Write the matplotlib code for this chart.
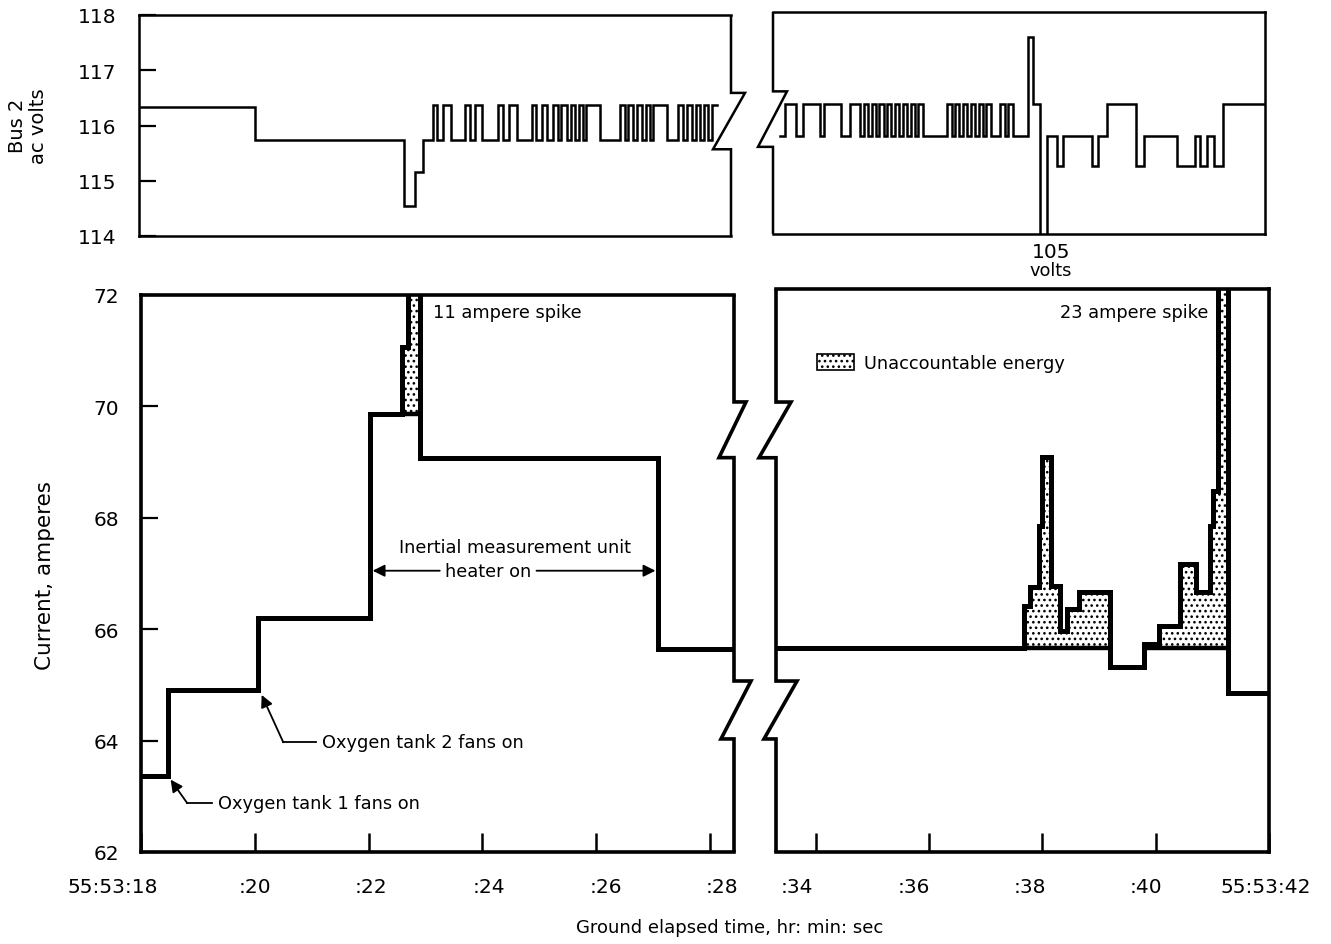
import matplotlib
matplotlib.use("Agg")
import matplotlib.pyplot as plt
import matplotlib.transforms as mtrans
from matplotlib.patches import Patch
import numpy as np

plt.rcParams['font.family'] = ['DejaVu Sans']
plt.rcParams['hatch.linewidth'] = 1.1

# ---------------- data: time in seconds after 55:53:00 ----------------
# Bus 2 ac volts, left of the data gap (value holds from each time to the next)
volt_a_time = [18.00, 20.00, 22.62, 22.82, 22.95,
               23.13, 23.21, 23.30, 23.44, 23.69, 23.78, 23.87, 23.99,
               24.28, 24.37, 24.47, 24.60, 24.87, 24.95, 25.04, 25.13,
               25.25, 25.33, 25.39, 25.48, 25.55, 25.63, 25.70, 25.77,
               25.83, 26.07, 26.42, 26.51, 26.56, 26.65, 26.72, 26.80,
               26.87, 26.94, 27.00, 27.24, 27.44, 27.53, 27.59, 27.68,
               27.75, 27.82, 27.89, 27.97, 28.04]
volt_a_value = [116.33, 115.74, 114.55, 115.15, 115.74,
                116.37, 115.74, 116.37, 115.74, 116.37, 115.74, 116.37, 115.74,
                116.37, 115.74, 116.37, 115.74, 116.37, 115.74, 116.37, 115.74,
                116.37, 115.74, 116.37, 115.74, 116.37, 115.74, 116.37, 115.74,
                116.37, 115.74, 116.37, 115.74, 116.37, 115.74, 116.37, 115.74,
                116.37, 115.74, 116.37, 115.74, 116.37, 115.74, 116.37, 115.74,
                116.37, 115.74, 116.37, 115.74, 116.37]
volt_a_end = 28.13

# Bus 2 ac volts, right of the data gap (drop to 105 V just before :38)
volt_b_time = [33.38, 33.46, 33.66, 33.77, 34.07, 34.14, 34.45, 34.61,
               34.78, 34.85, 34.92, 34.98, 35.06, 35.12, 35.20, 35.26,
               35.33, 35.39, 35.47, 35.53, 35.61, 35.67, 35.74, 35.80,
               35.89, 36.30, 36.39, 36.45, 36.52, 36.58, 36.66, 36.72,
               36.80, 36.86, 36.93, 36.99, 37.07, 37.24, 37.33, 37.38,
               37.46, 37.73, 37.82, 37.94, 38.06, 38.23, 38.35, 38.85,
               38.95, 39.11, 39.63, 39.76, 40.34, 40.66, 40.75, 40.87,
               40.99, 41.16]
volt_b_value = [115.76, 116.35, 115.76, 116.35, 115.76, 116.35, 115.76, 116.35,
                115.76, 116.35, 115.76, 116.35, 115.76, 116.35, 115.76, 116.35,
                115.76, 116.35, 115.76, 116.35, 115.76, 116.35, 115.76, 116.35,
                115.76, 116.35, 115.76, 116.35, 115.76, 116.35, 115.76, 116.35,
                115.76, 116.35, 115.76, 116.35, 115.76, 116.35, 115.76, 116.35,
                115.76, 117.55, 116.35, 105.00, 115.76, 115.22, 115.76, 115.22,
                115.76, 116.35, 115.22, 115.76, 115.22, 115.76, 115.22, 115.76,
                115.22, 116.35]
volt_b_end = 41.89

# Current, amperes (thick trace), left of the data gap
amp_a_time = [18.00, 18.47, 20.06, 22.02, 22.59, 22.69, 22.90, 27.09]
amp_a_value = [63.36, 64.91, 66.20, 69.86, 71.07, 73.50, 69.08, 65.64]
amp_a_end = 28.42

# Current, amperes, right of the data gap
amp_b_time = [33.30, 37.68, 37.79, 37.94, 37.99, 38.16, 38.32, 38.44,
              38.64, 39.20, 39.79, 40.05, 40.43, 40.72, 40.96, 41.02,
              41.10, 41.28]
amp_b_value = [65.67, 66.42, 66.76, 67.86, 69.09, 66.78, 65.97, 66.36,
               66.66, 65.32, 65.73, 66.06, 67.17, 66.66, 67.86, 68.49,
               74.00, 64.85]
amp_b_end = 42.00

# accountable current level under the stippled (unaccountable energy) areas
base_a_level, base_a_span = 69.86, (22.59, 22.90)
base_b_level, base_b_span = 65.67, (37.68, 41.28)

xticks_a = [18, 20, 22, 24, 26, 28]
xlabels_a = ['55:53:18', ':20', ':22', ':24', ':26', ':28']
xticks_b = [34, 36, 38, 40, 42]
xlabels_b = [':34', ':36', ':38', ':40', '55:53:42']
volt_ticks = [114, 115, 116, 117, 118]
amp_ticks = [62, 64, 66, 68, 70, 72]

# ---------------- figure ----------------
W, H = 1331, 945
fig = plt.figure(figsize=(W / 100, H / 100), dpi=100)
fig.patch.set_facecolor('white')


def px_axes(x0, y0, x1, y1):
    return fig.add_axes([x0 / W, 1 - y1 / H, (x1 - x0) / W, (y1 - y0) / H])


def step_xy(ts, vs, t_end):
    x = np.repeat(np.append(np.asarray(ts, float), t_end), 2)[1:-1]
    y = np.repeat(np.asarray(vs, float), 2)
    return x, y


def break_spine(ax, xs, ytop, ybot, breaks, lw):
    wpx = ax.get_position().width * W
    pts = [(xs, ytop)]
    for yh, yl, r, l in breaks:
        pts += [(xs, yh), (xs + r / wpx, yh), (xs - l / wpx, yl), (xs, yl)]
    pts.append((xs, ybot))
    px, py = zip(*pts)
    tr = mtrans.blended_transform_factory(ax.transAxes, ax.transData)
    ax.plot(px, py, color='black', lw=lw, transform=tr, clip_on=False,
            solid_joinstyle='miter', solid_capstyle='butt', zorder=5)


def shift_labels(labels, shifts_px):
    for lab, dx in zip(labels, shifts_px):
        lab.set_transform(lab.get_transform() +
                          mtrans.ScaledTranslation(dx / 100, 0, fig.dpi_scale_trans))


TICK = 14.5
ANN = 12.8

ax_tl = px_axes(139, 16, 731, 237)
ax_tr = px_axes(773, 13, 1265, 235)
ax_bl = px_axes(141, 296, 734, 853)
ax_br = px_axes(776, 290, 1269, 853)

ax_tl.set_xlim(17.965, 28.37)
ax_tr.set_xlim(33.25, 41.89)
ax_bl.set_xlim(18.0, 28.42)
ax_br.set_xlim(33.30, 42.0)
for a in (ax_tl, ax_tr):
    a.set_ylim(114, 118)
ax_bl.set_ylim(62, 72)
ax_br.set_ylim(62, 72.11)

# spines
for a, lw in ((ax_tl, 1.8), (ax_tr, 1.8), (ax_bl, 2.6), (ax_br, 2.6)):
    for s in a.spines.values():
        s.set_linewidth(lw)
ax_tl.spines['right'].set_visible(False)
ax_tr.spines['left'].set_visible(False)
ax_bl.spines['right'].set_visible(False)
ax_br.spines['left'].set_visible(False)

break_spine(ax_tl, 1.0, 118, 114, [(116.59, 115.57, 14, 18)], 1.8)
break_spine(ax_tr, 0.0, 118, 114, [(116.57, 115.57, 14, 15)], 1.8)
break_spine(ax_bl, 1.0, 72, 62, [(70.08, 69.08, 12, 15), (65.07, 64.03, 17, 13)], 2.6)
break_spine(ax_br, 0.0, 72.11, 62, [(70.08, 69.08, 15, 17), (65.07, 64.03, 21, 12)], 2.6)

# ticks
ax_tl.set_xticks([])
ax_tr.set_xticks([])
ax_tr.set_yticks([])
ax_br.set_yticks([])
ax_tl.set_yticks(volt_ticks)
ax_tl.set_yticklabels([str(v) for v in volt_ticks])
ax_bl.set_yticks(amp_ticks)
ax_bl.set_yticklabels([str(v) for v in amp_ticks])
ax_bl.set_xticks(xticks_a)
labs_a = ax_bl.set_xticklabels(xlabels_a)
ax_br.set_xticks(xticks_b)
labs_b = ax_br.set_xticklabels(xlabels_b)
for a in (ax_tl, ax_tr, ax_bl, ax_br):
    a.tick_params(axis='y', direction='in', length=12, width=1.6, labelsize=TICK, pad=16)
    a.tick_params(axis='x', direction='in', length=14, width=1.8, labelsize=TICK, pad=18)
shift_labels(labs_a, [-28, 0, 2, 6, 10, 12])
shift_labels(labs_b, [-19, -15, -12, -10, -3])

# voltage traces
x, y = step_xy(volt_a_time, volt_a_value, volt_a_end)
ax_tl.plot(x, y, color='black', lw=1.8, solid_joinstyle='miter', zorder=3)
x, y = step_xy(volt_b_time, volt_b_value, volt_b_end)
ax_tr.plot(x, y, color='black', lw=1.8, solid_joinstyle='miter', zorder=3)


def current_panel(ax, ts, vs, t_end, level, span):
    x, y = step_xy(ts, vs, t_end)
    m = (x >= span[0]) & (x <= span[1])
    ax.fill_between(x[m], level, np.maximum(y[m], level), facecolor='white',
                    edgecolor='black', hatch='...', linewidth=0, zorder=1)
    # accountable level drawn under the stippled parts
    tt = list(ts) + [t_end]
    for i, v in enumerate(vs):
        if span[0] <= ts[i] < span[1] and v > level:
            ax.plot([ts[i], tt[i + 1]], [level, level], color='black', lw=3.2,
                    solid_capstyle='butt', zorder=2)
    ax.plot(x, y, color='black', lw=3.6, solid_joinstyle='miter', zorder=3)


current_panel(ax_bl, amp_a_time, amp_a_value, amp_a_end, base_a_level, base_a_span)
current_panel(ax_br, amp_b_time, amp_b_value, amp_b_end, base_b_level, base_b_span)

# annotations
ax_bl.text(23.13, 71.70, '11 ampere spike', ha='left', va='center', fontsize=ANN)
ax_br.text(40.93, 71.70, '23 ampere spike', ha='right', va='center', fontsize=ANN)

arrow = dict(arrowstyle='-|>', lw=1.3, color='black', mutation_scale=18,
             shrinkA=0, shrinkB=0)
ax_bl.text(24.57, 67.48, 'Inertial measurement unit', ha='center', va='center', fontsize=ANN)
ax_bl.text(24.10, 67.05, 'heater on', ha='center', va='center', fontsize=ANN)
ax_bl.annotate('', xy=(22.07, 67.05), xytext=(23.25, 67.05), arrowprops=arrow)
ax_bl.annotate('', xy=(27.04, 67.05), xytext=(24.95, 67.05), arrowprops=arrow)

ax_bl.text(21.18, 63.97, 'Oxygen tank 2 fans on', ha='left', va='center', fontsize=ANN)
ax_bl.plot([20.50, 21.08], [63.97, 63.97], color='black', lw=1.3)
ax_bl.annotate('', xy=(20.12, 64.82), xytext=(20.50, 63.97), arrowprops=arrow)

ax_bl.text(19.35, 62.88, 'Oxygen tank 1 fans on', ha='left', va='center', fontsize=ANN)
ax_bl.plot([18.81, 19.25], [62.88, 62.88], color='black', lw=1.3)
ax_bl.annotate('', xy=(18.52, 63.30), xytext=(18.81, 62.88), arrowprops=arrow)

ax_tr.text(38.13, 113.69, '105', ha='center', va='center', fontsize=TICK, clip_on=False)
ax_tr.text(38.13, 113.36, 'volts', ha='center', va='center', fontsize=ANN, clip_on=False)

legend_patch = Patch(facecolor='white', edgecolor='black', hatch='...',
                     linewidth=1.2, label='Unaccountable energy')
ax_br.legend(handles=[legend_patch], loc='upper left',
             bbox_to_anchor=(817 / W, 1 - 355 / H), bbox_transform=fig.transFigure,
             frameon=False, handlelength=2.1, handleheight=1.0, handletextpad=0.55,
             borderpad=0, borderaxespad=0, fontsize=ANN)

fig.text(28 / W, 1 - 126 / H, 'Bus 2\nac volts', rotation=90, ha='center',
         va='center', fontsize=14, multialignment='center', linespacing=1.1)
fig.text(45 / W, 1 - 575 / H, 'Current, amperes', rotation=90, ha='center',
         va='center', fontsize=15.5)
fig.text(730 / W, 1 - 928 / H, 'Ground elapsed time, hr: min: sec', ha='center',
         va='center', fontsize=13)

fig.savefig('out.png', dpi=100, facecolor='white')
